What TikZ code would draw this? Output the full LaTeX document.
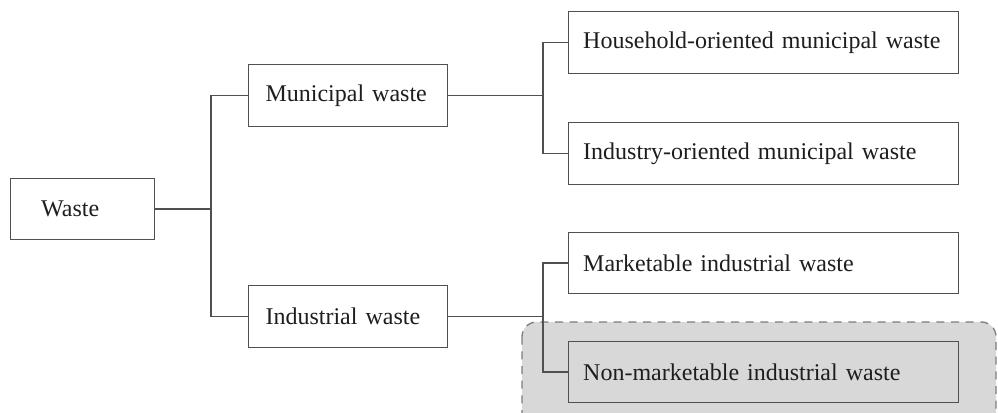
\documentclass[tikz,border=0pt]{standalone}
\usepackage{fontspec}
\setmainfont{Liberation Serif}
\usepackage{tikz}
\usetikzlibrary{positioning}
\usetikzlibrary{calc}
\usepackage{color}
\definecolor{mylinegray}{RGB}{80,80,80}
\definecolor{myfillgray}{RGB}{216,216,216}
\definecolor{mydashgray}{RGB}{125,125,125}
\definecolor{mytextgray}{RGB}{30,30,30}
\newcommand{\widthroot}{62pt}
\newcommand{\widthmid}{123.75pt}
\newcommand{\widthleaf}{270.5pt}
\tikzset{
    common/.style={anchor=west, draw=mylinegray, rectangle, line width=0.8pt, align=left,
        text=mytextgray, font=\fontsize{18pt}{22pt}\selectfont, minimum height=46pt},
    root/.style={common, inner xsep=23pt, text width=\widthroot},
    mid/.style={common, inner xsep=12.75pt, text width=\widthmid},
    leaf/.style={common, inner xsep=11pt, text width=\widthleaf},
    wire/.style={draw=mylinegray, line width=0.8pt},
    zone/.style={fill=myfillgray, draw=mydashgray, dashed, dash pattern=on 6pt off 5pt,
        line width=1pt, rounded corners=11pt},
}
\begin{document}
\begin{tikzpicture}[x=0.75pt, y=-0.75pt]
    \clip (0,0) rectangle (998,413);
    \fill[white] (0,0) rectangle (998,413);
    % shaded part
    \path[zone] (522,322) rectangle (996,450);

    \node[root] (waste) at (10,209) {Waste};
    \node[mid] (muni) at (248,95.5) {Municipal waste};
    \node[mid] (indu) at (248,316.5) {Industrial waste};
    \node[leaf] (house) at (568,42.5) {Household-oriented municipal waste};
    \node[leaf] (indor) at (568,153.5) {Industry-oriented municipal waste};
    \node[leaf] (mark) at (568,263) {Marketable industrial waste};
    \node[leaf] (nonmark) at (568,372) {Non-marketable industrial waste};

    \coordinate (split0) at (211,209);
    \coordinate (split1) at (543,95.5);
    \coordinate (split2) at (543,316.5);

    \draw[wire] (waste.east) -- (split0);
    \draw[wire] (muni.west) -| (split0) |- (indu.west);
    \draw[wire] (muni.east) -- (split1);
    \draw[wire] (house.west) -| (split1) |- (indor.west);
    \draw[wire] (indu.east) -- (split2);
    \draw[wire] (mark.west) -| (split2) |- (nonmark.west);
\end{tikzpicture}
\end{document}
